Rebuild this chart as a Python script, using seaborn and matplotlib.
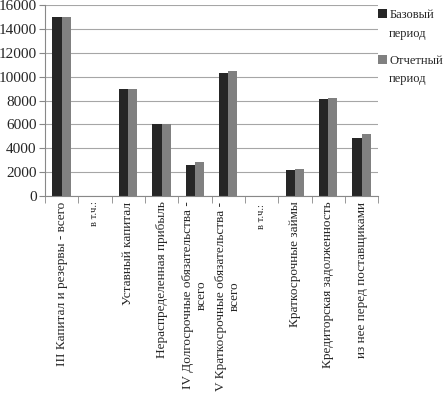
import numpy as np
import pandas as pd
import seaborn as sns
import matplotlib
matplotlib.use("Agg")
import matplotlib.pyplot as plt

categories = [
    "III Капитал и резервы - всего",
    "в т.ч.:",
    "Уставный капитал",
    "Нераспределенная прибыль",
    "IV Долгосрочные обязательства -\nвсего",
    "V Краткосрочные обязательства -\nвсего",
    "в т.ч.: ",
    "Краткосрочные займы",
    "Кредиторская задолженность",
    "из нее перед поставщиками",
]
base_period = [15000, 0, 9000, 6000, 2600, 10350, 0, 2200, 8150, 4900]
report_period = [15000, 0, 9000, 6000, 2850, 10500, 0, 2250, 8250, 5200]
series_names = ["Базовый", "Отчетный"]
series_suffix = "период"

df = pd.DataFrame({
    "cat": categories * 2,
    "val": base_period + report_period,
    "series": [series_names[0]] * len(categories) + [series_names[1]] * len(categories),
})

sns.set_style("white")
plt.rcParams["font.family"] = ["Liberation Serif", "DejaVu Serif"]

fig = plt.figure(figsize=(4.45, 3.96), dpi=100)
ax = fig.add_axes([0.101, 0.505, 0.749, 0.482])

sns.barplot(data=df, x="cat", y="val", hue="series", order=categories,
            palette=["#262626", "#808080"], width=0.55, saturation=1,
            edgecolor="none", ax=ax, legend=True)

ax.set_ylim(0, 16000)
ax.set_yticks(np.arange(0, 16001, 2000))
ax.yaxis.grid(True, color="#a6a6a6", linewidth=0.8)
ax.set_axisbelow(True)
ax.set_xlabel("")
ax.set_ylabel("")
ax.tick_params(axis="y", labelsize=11, length=4, color="#888888", direction="out", left=True, pad=2)

ax.set_xlim(-0.5, len(categories) - 0.5)
ax.set_xticks(range(len(categories)))
ax.set_xticklabels(categories, rotation=90, fontsize=9.5, ha="center", va="top",
                   multialignment="center")
for lbl in ax.get_xticklabels():
    if lbl.get_text().strip() == "в т.ч.:":
        lbl.set_fontsize(7.5)
ax.tick_params(axis="x", length=0, pad=4)
ax.set_xticks(np.arange(-0.5, len(categories), 1.0), minor=True)
ax.tick_params(axis="x", which="minor", length=5, color="#888888", bottom=True)

for side in ["top", "right"]:
    ax.spines[side].set_visible(False)
for side in ["left", "bottom"]:
    ax.spines[side].set_color("#888888")
    ax.spines[side].set_linewidth(0.8)

handles, labels = ax.get_legend_handles_labels()
ax.get_legend().remove()
fig.legend(handles, labels, loc="upper left", bbox_to_anchor=(0.85, 0.977),
           frameon=False, fontsize=9, handlelength=0.7, handleheight=0.7,
           handletextpad=0.2, labelspacing=2.7, borderaxespad=0, borderpad=0)
# second line of each legend label, left-aligned under the first
for yy in [1 - 34 / 396, 1 - 79 / 396]:
    fig.text(389 / 445, yy, series_suffix, fontsize=9, ha="left", va="center")

fig.savefig("out.png", dpi=100)
